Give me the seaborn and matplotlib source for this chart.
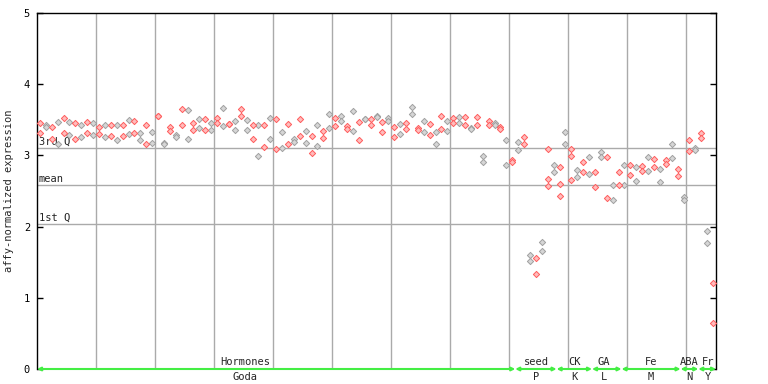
import numpy as np
import pandas as pd
import seaborn as sns
import matplotlib.pyplot as plt

# two replicate values per chip column (115 columns)
rep1 = [3.45, 3.42, 3.40, 3.47, 3.53, 3.47, 3.46, 3.42, 3.47, 3.45,
        3.40, 3.42, 3.43, 3.43, 3.43, 3.50, 3.49, 3.32, 3.42, 3.33,
        3.55, 3.18, 3.40, 3.29, 3.65, 3.64, 3.46, 3.51, 3.51, 3.46,
        3.52, 3.66, 3.44, 3.48, 3.65, 3.50, 3.43, 3.43, 3.43, 3.52,
        3.51, 3.33, 3.44, 3.23, 3.51, 3.34, 3.27, 3.43, 3.34, 3.58,
        3.52, 3.56, 3.41, 3.63, 3.47, 3.51, 3.51, 3.56, 3.47, 3.52,
        3.40, 3.44, 3.45, 3.68, 3.38, 3.48, 3.44, 3.33, 3.55, 3.48,
        3.52, 3.54, 3.54, 3.38, 3.54, 2.99, 3.48, 3.46, 3.40, 3.22,
        2.93, 3.19, 3.26, 1.60, 1.56, 1.78, 3.09, 2.87, 2.84, 3.33,
        3.09, 2.79, 2.91, 2.98, 2.77, 3.05, 2.98, 2.58, 2.77, 2.87,
        2.87, 2.84, 2.85, 2.98, 2.95, 2.81, 2.93, 3.16, 2.81, 2.42,
        3.22, 3.10, 3.31, 1.94, 1.21]
rep2 = [3.31, 3.40, 3.23, 3.16, 3.31, 3.28, 3.23, 3.26, 3.31, 3.28,
        3.30, 3.26, 3.27, 3.21, 3.27, 3.30, 3.32, 3.21, 3.16, 3.18,
        3.55, 3.16, 3.34, 3.26, 3.42, 3.23, 3.36, 3.38, 3.36, 3.35,
        3.45, 3.41, 3.44, 3.35, 3.55, 3.35, 3.23, 2.99, 3.12, 3.23,
        3.09, 3.10, 3.16, 3.19, 3.27, 3.17, 3.03, 3.13, 3.24, 3.38,
        3.41, 3.48, 3.37, 3.34, 3.21, 3.51, 3.43, 3.54, 3.33, 3.49,
        3.26, 3.30, 3.37, 3.58, 3.36, 3.33, 3.29, 3.16, 3.37, 3.34,
        3.45, 3.45, 3.43, 3.37, 3.43, 2.91, 3.43, 3.43, 3.37, 2.87,
        2.91, 3.07, 3.16, 1.52, 1.34, 1.66, 2.67, 2.77, 2.60, 3.16,
        2.99, 2.70, 2.77, 2.74, 2.56, 2.98, 2.40, 2.37, 2.58, 2.58,
        2.72, 2.64, 2.78, 2.78, 2.84, 2.63, 2.88, 2.97, 2.71, 2.37,
        3.06, 3.07, 3.24, 1.77, 0.65]
# columns that carry a third chip
extra_col = [86, 88, 90]
extra_val = [2.57, 2.43, 2.65]

# quartile / mean reference lines
ref_names = ["3rd Q", "mean", "1st Q"]
ref_vals = [3.10, 2.58, 2.04]

# experiment groups along the x axis (in chip columns)
group_top = ["Hormones", "seed", "CK", "GA", "Fe", "ABA", "Fr"]
group_bottom = ["Goda", "P", "K", "L", "M", "N", "Y"]
group_start = [0, 81, 88, 94, 99, 109, 112]
group_end = [81, 88, 94, 99, 109, 112, 115]
group_label_x = [35.3, 84.5, 91, 96, 104, 110.5, 113.6]

n_cols = len(rep1)
cols = list(range(n_cols))
df = pd.DataFrame({
    "x": [c + 0.5 for c in cols + cols + extra_col],
    "y": rep1 + rep2 + extra_val,
})
df["grp"] = ["red" if int(x) % 2 == 0 else "gray" for x in df["x"]]

sns.set_style("white")
plt.rcParams["font.family"] = ["DejaVu Sans Mono"]
fs = 7.5

fig = plt.figure(figsize=(7.68, 3.84), dpi=100)
ax = fig.add_axes([37 / 768, 15 / 384, 679 / 768, 356 / 384])

# grid
for gx in range(10, n_cols, 10):
    ax.axvline(gx, color="#aaaaaa", lw=1, zorder=1)
for name, v in zip(ref_names, ref_vals):
    ax.axhline(v, color="#aaaaaa", lw=1, zorder=1)
    ax.text(0.3, v + 0.02, name, fontsize=fs, va="bottom", ha="left", zorder=3)

sns.scatterplot(data=df[df.grp == "gray"], x="x", y="y", marker="D", s=10,
                color="#d6d6d6", edgecolor="#a0a0a0", linewidth=0.7, ax=ax, zorder=4)
sns.scatterplot(data=df[df.grp == "red"], x="x", y="y", marker="D", s=10,
                color="#ffbcbc", edgecolor="#ff5c5c", linewidth=0.7, ax=ax, zorder=4)

ax.set_xlim(0, n_cols)
ax.set_ylim(0, 5)
ax.set_xticks([])
ax.set_yticks([0, 1, 2, 3, 4, 5])
ax.tick_params(axis="y", direction="in", length=4, width=1, labelsize=fs,
               right=True, left=True, pad=5, colors="black")
ax.set_xlabel("")
ax.set_ylabel("affy-normalized expression", fontsize=fs)
ax.yaxis.set_label_coords(-0.034, 0.5)
for s in ["left", "right", "top"]:
    ax.spines[s].set_color("black")
    ax.spines[s].set_linewidth(1)
ax.spines["bottom"].set_visible(False)

# group arrows and labels on the baseline
green = "#44ee44"
for name, sub, x0, x1, lx in zip(group_top, group_bottom, group_start,
                                 group_end, group_label_x):
    ax.annotate("", xy=(x1, 0), xytext=(x0, 0),
                arrowprops=dict(arrowstyle="<|-|>", color=green, lw=1.5,
                                mutation_scale=5, shrinkA=0, shrinkB=0),
                annotation_clip=False, zorder=5)
    ax.annotate(name, xy=(lx, 0), xytext=(0, 1.5), textcoords="offset points",
                ha="center", va="bottom", fontsize=fs, annotation_clip=False)
    ax.annotate(sub, xy=(lx, 0), xytext=(0, -2.5), textcoords="offset points",
                ha="center", va="top", fontsize=fs, annotation_clip=False)

fig.savefig("out.png", dpi=100)
